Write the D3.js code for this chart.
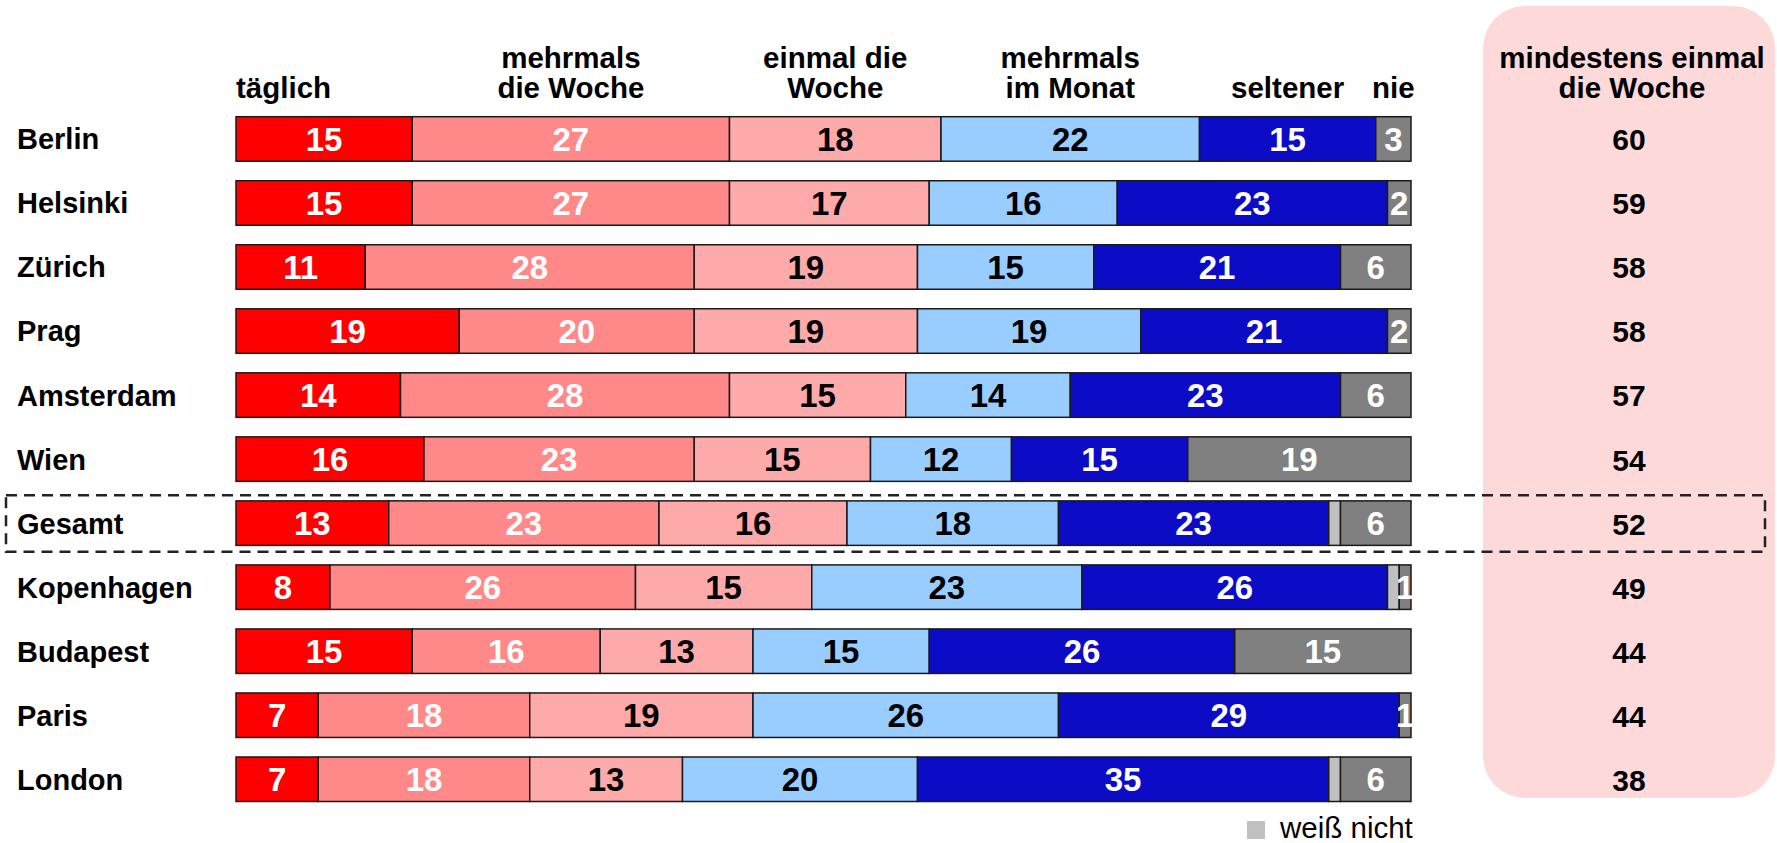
<!DOCTYPE html>
<html>
<head>
<meta charset="utf-8">
<script src="https://cdn.jsdelivr.net/npm/d3@7"></script>
<style>
  body { margin: 0; background: #fff; }
  text { font-family: "Liberation Sans", Arial, sans-serif; }
</style>
</head>
<body>
<div id="chart"></div>
<script>
// Data (percent)
const cities = ["Berlin", "Helsinki", "Zürich", "Prag", "Amsterdam", "Wien", "Gesamt", "Kopenhagen", "Budapest", "Paris", "London"];
const taeglich       = [15, 15, 11, 19, 14, 16, 13, 8, 15, 7, 7];
const mehrmalsWoche  = [27, 27, 28, 20, 28, 23, 23, 26, 16, 18, 18];
const einmalWoche    = [18, 17, 19, 19, 15, 15, 16, 15, 13, 19, 13];
const mehrmalsMonat  = [22, 16, 15, 19, 14, 12, 18, 23, 15, 26, 20];
const seltener       = [15, 23, 21, 21, 23, 15, 23, 26, 26, 29, 35];
const weissNicht     = [0, 0, 0, 0, 0, 0, 1, 1, 0, 0, 1];
const nie            = [3, 2, 6, 2, 6, 19, 6, 1, 15, 1, 6];
const mindestens     = [60, 59, 58, 58, 57, 54, 52, 49, 44, 44, 38];

const keys = ["taeglich", "mehrmalsWoche", "einmalWoche", "mehrmalsMonat", "seltener", "weissNicht", "nie"];
const headers = [["täglich"], ["mehrmals", "die Woche"], ["einmal die", "Woche"], ["mehrmals", "im Monat"], ["seltener"], [], ["nie"]];
const colors = ["#ff0000", "#ff8888", "#ffaaaa", "#99ccff", "#0c0cc6", "#c0c0c0", "#808080"];
const textColors = ["#fff", "#fff", "#000", "#000", "#fff", null, "#fff"];

const series = [taeglich, mehrmalsWoche, einmalWoche, mehrmalsMonat, seltener, weissNicht, nie];
const rows = cities.map((c, i) => {
    const r = { city: c };
    keys.forEach((k, j) => r[k] = series[j][i]);
    return r;
});

const width = 1777, height = 843;

const svg = d3.select("#chart")
    .append("svg")
    .attr("width", width)
    .attr("height", height);

// Scales
const x = d3.scaleLinear().domain([0, 100]).range([236, 1411]);
const y = d3.scaleBand()
    .domain(cities)
    .range([116.7, 801.5])
    .paddingInner(0.305)
    .paddingOuter(0);

// Pink panel for "mindestens einmal die Woche"
const panelX = 1483, panelW = 292;
svg.append("rect")
    .attr("x", panelX)
    .attr("y", 6)
    .attr("width", panelW)
    .attr("height", 792)
    .attr("rx", 42)
    .attr("fill", "#fdd9d9");

const stacked = d3.stack().keys(keys)(rows);

// Bars
const layers = svg.selectAll(".layer")
    .data(stacked)
    .enter().append("g")
    .attr("class", "layer")
    .attr("fill", (d, i) => colors[i]);

layers.selectAll("rect")
    .data(d => d.filter(s => s[1] - s[0] > 0))
    .enter().append("rect")
    .attr("x", d => x(d[0]))
    .attr("y", d => y(d.data.city))
    .attr("width", d => x(d[1]) - x(d[0]))
    .attr("height", y.bandwidth())
    .attr("stroke", "#1a1a1a")
    .attr("stroke-width", 1.5);

// Value labels in the bars
stacked.forEach((layer, i) => {
    if (!textColors[i]) return;
    svg.append("g").selectAll("text")
        .data(layer.filter(s => s[1] - s[0] > 0))
        .enter().append("text")
        .attr("x", d => x((d[0] + d[1]) / 2))
        .attr("y", d => y(d.data.city) + y.bandwidth() / 2)
        .attr("dy", "0.36em")
        .attr("text-anchor", "middle")
        .attr("font-size", 33)
        .attr("font-weight", "bold")
        .attr("fill", textColors[i])
        .text(d => d[1] - d[0]);
});

// Row labels
svg.append("g").selectAll("text")
    .data(cities)
    .enter().append("text")
    .attr("x", 17)
    .attr("y", d => y(d) + y.bandwidth() / 2)
    .attr("dy", "0.36em")
    .attr("font-size", 29)
    .attr("font-weight", "bold")
    .text(d => d);

// Column headers, placed over the Berlin segments
const first = stacked.map(l => l[0]);
headers.forEach((lines, i) => {
    if (!lines.length) return;
    const left = i === 0;
    const t = svg.append("text")
        .attr("text-anchor", left ? "start" : "middle")
        .attr("font-size", 29.5)
        .attr("font-weight", "bold");
    const cx = left ? x(first[i][0]) : x((first[i][0] + first[i][1]) / 2);
    lines.forEach((line, k) => {
        t.append("tspan")
            .attr("x", cx)
            .attr("y", 98 - (lines.length - 1 - k) * 30)
            .text(line);
    });
});

// Right column
const px = panelX + panelW / 2;
const ph = svg.append("text")
    .attr("text-anchor", "middle")
    .attr("font-size", 29.5)
    .attr("font-weight", "bold");
ph.append("tspan").attr("x", px + 3).attr("y", 68).text("mindestens einmal");
ph.append("tspan").attr("x", px + 3).attr("y", 98).text("die Woche");

svg.append("g").selectAll("text")
    .data(mindestens)
    .enter().append("text")
    .attr("x", px)
    .attr("y", (d, i) => y(cities[i]) + y.bandwidth() / 2)
    .attr("dy", "0.38em")
    .attr("text-anchor", "middle")
    .attr("font-size", 30)
    .attr("font-weight", "bold")
    .text(d => d);

// Dashed box around "Gesamt"
const gy = y("Gesamt") + y.bandwidth() / 2;
svg.append("rect")
    .attr("x", 6)
    .attr("y", gy - 28)
    .attr("width", 1765 - 6)
    .attr("height", 56.5)
    .attr("fill", "none")
    .attr("stroke", "#222")
    .attr("stroke-width", 2.5)
    .attr("stroke-dasharray", "11,7");

// Legend
svg.append("rect")
    .attr("x", 1247)
    .attr("y", 821)
    .attr("width", 18)
    .attr("height", 18)
    .attr("fill", colors[5]);
svg.append("text")
    .attr("x", 1280)
    .attr("y", 838)
    .attr("font-size", 29.5)
    .text("weiß nicht");
</script>
</body>
</html>
